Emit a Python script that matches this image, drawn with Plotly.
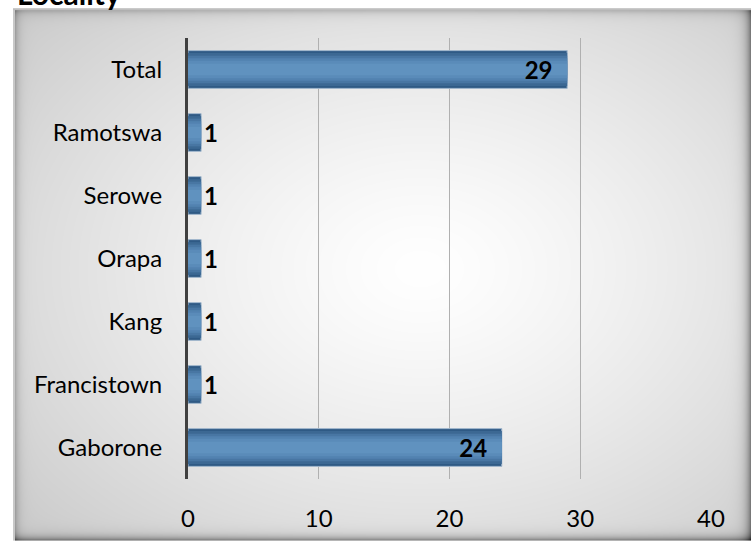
import base64
import struct
import zlib

import numpy as np
import plotly.graph_objects as go

# ---- data ----
categories = ["Gaborone", "Francistown", "Kang", "Orapa", "Serowe", "Ramotswa", "Total"]
values = [24, 1, 1, 1, 1, 1, 29]
x_ticks = [0, 10, 20, 30, 40]
title_text = "Locality"

# ---- geometry (pixels) ----
W_FIG, H_FIG = 751, 544
PL, PR, PT, PB = 188, 711, 38, 482          # plot area
FX0, FY0, FX1, FY1 = 13, 8, 751, 544        # chart frame
PW, PH = PR - PL, PB - PT


def px_to_paper_x(px):
    return (px - PL) / PW


def px_to_paper_y(py):
    return 1 - (py - PT) / PH


# ---- background frame image (radial gradient + inner shadow) ----
def make_png(arr):
    h, w = arr.shape
    raw = b"".join(b"\x00" + arr[r].tobytes() for r in range(h))

    def chunk(tag, data):
        c = struct.pack(">I", len(data)) + tag + data
        return c + struct.pack(">I", zlib.crc32(tag + data) & 0xFFFFFFFF)

    png = b"\x89PNG\r\n\x1a\n"
    png += chunk(b"IHDR", struct.pack(">IIBBBBB", w, h, 8, 0, 0, 0, 0))
    png += chunk(b"IDAT", zlib.compress(raw, 9))
    png += chunk(b"IEND", b"")
    return png


fw, fh = FX1 - FX0, FY1 - FY0
yy, xx = np.mgrid[0:fh, 0:fw].astype(float)
cx, cy = 420 - FX0, 270 - FY0
d = np.sqrt(((xx - cx) / 520.0) ** 2 + ((yy - cy) / 380.0) ** 2)
img = 255 - 50 * np.clip(d, 0, 1) ** 1.3
# inner shadows
img -= 45 * np.exp(-np.clip(xx - 2, 0, None) / 4.0) * (xx >= 2)
img -= 40 * np.exp(-np.clip(yy - 2, 0, None) / 4.0) * (yy >= 2)
img -= 90 * np.exp(-(fw - 1 - xx) / 5.0)
img -= 90 * np.exp(-(fh - 1 - yy) / 4.0)
# thin light border on left / top
img[:, 0:2] = 200
img[0:2, :] = 190
img = np.clip(img, 0, 255).astype(np.uint8)
img_src = "data:image/png;base64," + base64.b64encode(make_png(img)).decode()

# ---- bars (layered for a bevel / gradient look) ----
layers = [
    (0.60, "#2f5a85"),
    (0.52, "#3c6893"),
    (0.44, "#4876a3"),
    (0.36, "#5282b0"),
    (0.28, "#5a8bb9"),
    (0.18, "#6092bf"),
]

FONT = "Lato"
TICK_SIZE = 24
LABEL_SIZE = 24

fig = go.Figure()
for i, (w, col) in enumerate(layers):
    fig.add_trace(go.Bar(
        y=categories, x=values, orientation="h", width=w,
        marker=dict(color=col,
                    line=dict(color="#a3b8cd" if i == 0 else col, width=1 if i == 0 else 0)),
        hoverinfo="skip", showlegend=False,
    ))

label_font = dict(family=FONT, size=LABEL_SIZE, color="black", weight="bold")
fig.add_trace(go.Bar(
    y=categories, x=values, orientation="h", width=0.6,
    marker=dict(color="rgba(0,0,0,0)", line=dict(width=0)),
    text=[str(v) for v in values],
    texttemplate="%{text}\u00a0\u00a0",
    textposition="auto", insidetextanchor="end", constraintext="none",
    textfont=label_font, outsidetextfont=label_font, insidetextfont=label_font,
    cliponaxis=False, hoverinfo="skip", showlegend=False,
))

fig.add_layout_image(dict(
    source=img_src, xref="paper", yref="paper",
    x=px_to_paper_x(FX0), y=px_to_paper_y(FY0),
    sizex=fw / PW, sizey=fh / PH,
    xanchor="left", yanchor="top", sizing="stretch", layer="below",
))

fig.add_annotation(
    text="<b>" + title_text + "</b>", xref="paper", yref="paper",
    x=px_to_paper_x(15), y=px_to_paper_y(-7), xanchor="left", yanchor="middle",
    showarrow=False, font=dict(family=FONT, size=30, color="black"),
)

fig.update_layout(
    width=W_FIG, height=H_FIG,
    margin=dict(l=PL, r=W_FIG - PR, t=PT, b=H_FIG - PB, pad=0),
    paper_bgcolor="white", plot_bgcolor="rgba(0,0,0,0)",
    barmode="overlay", bargap=0.4,
    xaxis=dict(range=[0, 40], tickvals=x_ticks, showgrid=True, gridcolor="#b0b0b0",
               gridwidth=1, zeroline=False, showline=False, ticks="",
               ticklabelstandoff=23,
               tickfont=dict(family=FONT, size=TICK_SIZE, color="black"), fixedrange=True),
    yaxis=dict(categoryorder="array", categoryarray=categories, showgrid=False,
               zeroline=False, showline=True, linecolor="#404040", linewidth=3,
               ticks="", ticklabelstandoff=18,
               tickfont=dict(family=FONT, size=TICK_SIZE, color="black"), fixedrange=True),
    font=dict(family=FONT),
)

fig.write_html(
    "out.html",
    config={"displayModeBar": False},
    post_script="document.body.style.margin='0';document.body.style.overflow='hidden';",
)
